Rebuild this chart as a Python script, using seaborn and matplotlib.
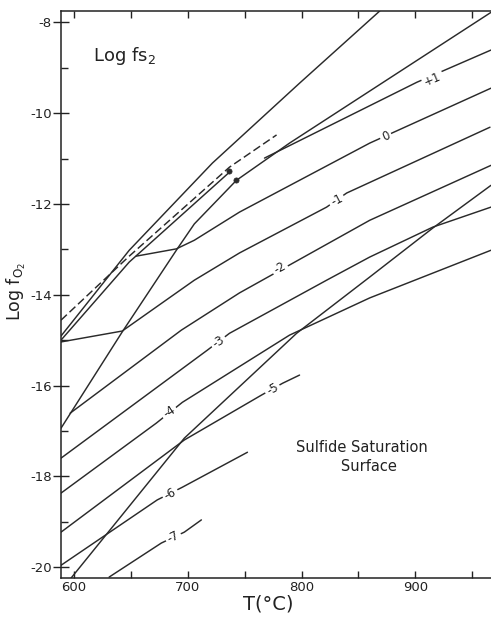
import matplotlib
matplotlib.use("Agg")
import matplotlib.pyplot as plt
import seaborn as sns
from matplotlib.ticker import FixedLocator

sns.set_theme(style="ticks")
plt.rcParams['font.family'] = ['DejaVu Sans']
plt.rcParams['axes.unicode_minus'] = False
plt.rcParams['mathtext.fontset'] = 'dejavusans'

# ---------------- data (T in °C, log fO2) ----------------
upper_T = [588.5, 648.5, 721.6, 798.2, 868.7]
upper_Y = [-14.91, -13.02, -11.10, -9.34, -7.75]

dashed_T = [588.5, 648.5, 736.6, 778.0]
dashed_Y = [-14.56, -13.15, -11.19, -10.48]

lowerB_T = [588.5, 648.5, 736.6]
lowerB_Y = [-15.00, -13.28, -11.30]

buffer1_T = [588.5, 642.3, 690.7, 705.7, 742.7, 789.4, 966.5]
buffer1_Y = [-16.94, -14.82, -12.99, -12.44, -11.48, -10.66, -7.78]

buffer2_T = [597.4, 696.9, 795.6, 859.9, 915.4, 966.5]
buffer2_Y = [-20.24, -17.16, -14.85, -13.61, -12.53, -11.59]

dots_T = [736.6, 742.7]
dots_Y = [-11.28, -11.48]

fs2_p1_T = [767.4, 901.3, 966.5]
fs2_p1_Y = [-10.99, -9.32, -8.61]

fs2_0_T = [654.6, 689.9, 705.7, 745.4, 859.9, 966.5]
fs2_0_Y = [-13.15, -12.99, -12.80, -12.18, -10.66, -9.45]

fs2_m1_T = [588.5, 642.3, 705.7, 745.4, 822.0, 839.6, 965.6]
fs2_m1_Y = [-15.04, -14.80, -13.68, -13.08, -12.07, -11.76, -10.31]

fs2_m2_T = [596.5, 694.3, 745.4, 859.9, 966.5]
fs2_m2_Y = [-16.61, -14.78, -13.96, -12.36, -11.15]

fs2_m3_T = [588.5, 717.2, 736.6, 822.0, 859.9, 915.4, 966.5]
fs2_m3_Y = [-17.60, -15.22, -14.85, -13.68, -13.17, -12.51, -12.07]

fs2_m4_T = [588.5, 672.2, 695.2, 789.4, 859.9, 966.5]
fs2_m4_Y = [-18.37, -16.83, -16.37, -14.89, -14.07, -13.02]

fs2_m5_T = [588.5, 696.9, 764.8, 783.3, 798.2]
fs2_m5_Y = [-19.23, -17.20, -16.21, -15.95, -15.77]

fs2_m6_T = [588.5, 673.1, 695.2, 752.4]
fs2_m6_Y = [-19.96, -18.52, -18.24, -17.47]

fs2_m7_T = [630.8, 676.7, 696.9, 711.9]
fs2_m7_Y = [-20.22, -19.47, -19.23, -18.96]

label_text = ["+1", "0", "-1", "-2", "-3", "-4", "-5", "-6", "-7"]
label_T = [915.4, 874.0, 830.8, 780.6, 726.9, 683.7, 774.4, 684.6, 687.2]
label_Y = [-9.25, -10.51, -11.92, -13.41, -15.04, -16.59, -16.08, -18.39, -19.34]
label_rot = [23, 24, 27, 29, 32, 33, 29, 28, 27]

x_major = [600, 700, 800, 900]
x_minor = [650, 750, 850, 950]
y_major = [-8, -10, -12, -14, -16, -18, -20]
y_minor = [-9, -11, -13, -15, -17, -19]

# ---------------- figure ----------------
W, H = 491, 618
fig = plt.figure(figsize=(W / 100, H / 100), dpi=100)
fig.patch.set_facecolor('white')
ax = fig.add_axes([61 / W, 1 - 578 / H, (W - 61) / W, (578 - 11) / H])
ax.set_facecolor('white')

LC = '#2a2a2a'
LW = 1.05

solid_lines = [
    (upper_T, upper_Y), (lowerB_T, lowerB_Y), (buffer1_T, buffer1_Y),
    (buffer2_T, buffer2_Y), (fs2_p1_T, fs2_p1_Y), (fs2_0_T, fs2_0_Y),
    (fs2_m1_T, fs2_m1_Y), (fs2_m2_T, fs2_m2_Y), (fs2_m3_T, fs2_m3_Y),
    (fs2_m4_T, fs2_m4_Y), (fs2_m5_T, fs2_m5_Y), (fs2_m6_T, fs2_m6_Y),
    (fs2_m7_T, fs2_m7_Y),
]
for tx, ty in solid_lines:
    sns.lineplot(x=tx, y=ty, sort=False, estimator=None, ax=ax,
                 color=LC, linewidth=LW, legend=False)

sns.lineplot(x=dashed_T, y=dashed_Y, sort=False, estimator=None, ax=ax,
             color=LC, linewidth=LW, linestyle=(0, (5.5, 2.5)), legend=False)

sns.scatterplot(x=dots_T, y=dots_Y, ax=ax, color=LC, s=14,
                edgecolor=LC, linewidth=0.5, legend=False, zorder=5)

for txt, tx, ty, rot in zip(label_text, label_T, label_Y, label_rot):
    ax.text(tx, ty, txt, fontsize=8.5, color='#222222', rotation=rot,
            rotation_mode='anchor', ha='center', va='center', zorder=6,
            bbox=dict(facecolor='white', edgecolor='none', pad=1.6))

ax.set_xlim(588.5, 966.5)
ax.set_ylim(-20.24, -7.75)

ax.xaxis.set_major_locator(FixedLocator(x_major))
ax.xaxis.set_minor_locator(FixedLocator(x_minor))
ax.yaxis.set_major_locator(FixedLocator(y_major))
ax.yaxis.set_minor_locator(FixedLocator(y_minor))

ax.tick_params(axis='x', which='both', direction='in', top=True, bottom=True,
               length=5, width=1.0, color='#222222')
ax.tick_params(axis='x', which='major', labelsize=9.5, pad=2.5, labelcolor='#222222')
ax.tick_params(axis='y', which='major', direction='inout', left=True, right=False,
               length=11, width=1.0, labelsize=9.5, pad=1, color='#222222',
               labelcolor='#222222')
ax.tick_params(axis='y', which='minor', direction='in', left=True, right=False,
               length=5, width=1.0, color='#222222')

for side in ['left', 'bottom', 'top']:
    ax.spines[side].set_linewidth(1.1)
    ax.spines[side].set_color('#222222')
ax.spines['right'].set_visible(False)
ax.set_xlabel('')
ax.set_ylabel('')

fig.text(16 / W, 1 - 291 / H, r'Log f$_{\mathrm{O}_2}$', rotation=90,
         ha='center', va='center', fontsize=12.5, color='#222222')
fig.text(268 / W, 1 - 604 / H, 'T(°C)', ha='center', va='center',
         fontsize=14, color='#222222')
fig.text(124 / W, 1 - 56 / H, r'Log fs$_2$', ha='center', va='center',
         fontsize=13, color='#222222')
fig.text(362 / W, 1 - 457 / H, 'Sulfide Saturation\n   Surface', ha='center',
         va='center', multialignment='center', fontsize=10.5, linespacing=1.3,
         color='#222222')

fig.savefig('out.png', dpi=100, facecolor='white')
